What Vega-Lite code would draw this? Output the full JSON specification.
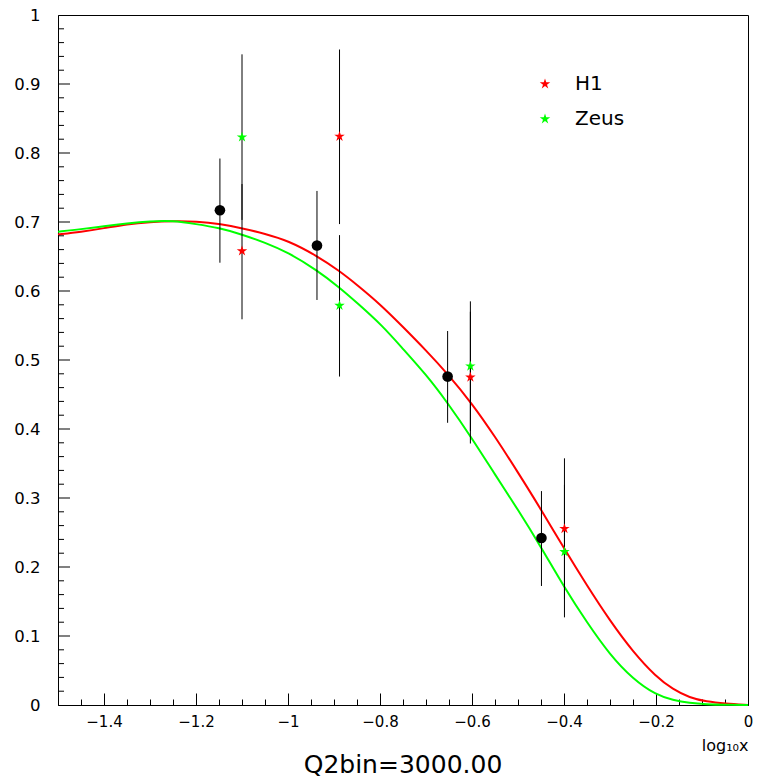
{
  "$schema": "https://vega.github.io/schema/vega-lite/v6.json",
  "width": 690,
  "height": 690,
  "autosize": "none",
  "padding": {"left": 58, "top": 15, "right": 10, "bottom": 78},
  "background": "white",
  "config": {
    "view": {"stroke": "black", "strokeWidth": 1},
    "font": "DejaVu Sans",
    "axis": {
      "grid": false,
      "domainColor": "black",
      "domainWidth": 1,
      "tickColor": "black",
      "tickWidth": 1,
      "labelColor": "black",
      "titleColor": "black",
      "labelFont": "DejaVu Sans",
      "titleFont": "DejaVu Sans",
      "labelFlush": false,
      "labelOverlap": false,
      "titleFontWeight": "normal"
    }
  },
  "title": {
    "text": "Q2bin=3000.00",
    "orient": "bottom",
    "anchor": "middle",
    "font": "DejaVu Sans",
    "fontSize": 25,
    "fontWeight": "normal",
    "color": "black",
    "offset": 0
  },
  "datasets": {
    "curves": [
      {"curve": "H1 fit", "x": -1.5, "y": 0.682},
      {"curve": "H1 fit", "x": -1.45, "y": 0.6858},
      {"curve": "H1 fit", "x": -1.4, "y": 0.691},
      {"curve": "H1 fit", "x": -1.35, "y": 0.697},
      {"curve": "H1 fit", "x": -1.3, "y": 0.7},
      {"curve": "H1 fit", "x": -1.25, "y": 0.7012},
      {"curve": "H1 fit", "x": -1.2, "y": 0.701},
      {"curve": "H1 fit", "x": -1.145, "y": 0.697},
      {"curve": "H1 fit", "x": -1.1, "y": 0.691},
      {"curve": "H1 fit", "x": -1.05, "y": 0.683},
      {"curve": "H1 fit", "x": -1.0, "y": 0.673},
      {"curve": "H1 fit", "x": -0.937, "y": 0.651},
      {"curve": "H1 fit", "x": -0.888, "y": 0.629},
      {"curve": "H1 fit", "x": -0.85, "y": 0.609},
      {"curve": "H1 fit", "x": -0.8, "y": 0.581},
      {"curve": "H1 fit", "x": -0.75, "y": 0.548},
      {"curve": "H1 fit", "x": -0.7, "y": 0.514},
      {"curve": "H1 fit", "x": -0.653, "y": 0.48},
      {"curve": "H1 fit", "x": -0.6, "y": 0.437},
      {"curve": "H1 fit", "x": -0.55, "y": 0.389},
      {"curve": "H1 fit", "x": -0.5, "y": 0.337},
      {"curve": "H1 fit", "x": -0.45, "y": 0.2835},
      {"curve": "H1 fit", "x": -0.4, "y": 0.227},
      {"curve": "H1 fit", "x": -0.35, "y": 0.173},
      {"curve": "H1 fit", "x": -0.3, "y": 0.122},
      {"curve": "H1 fit", "x": -0.25, "y": 0.077},
      {"curve": "H1 fit", "x": -0.2, "y": 0.041},
      {"curve": "H1 fit", "x": -0.163, "y": 0.0227},
      {"curve": "H1 fit", "x": -0.127, "y": 0.0106},
      {"curve": "H1 fit", "x": -0.09, "y": 0.0048},
      {"curve": "H1 fit", "x": -0.05, "y": 0.002},
      {"curve": "H1 fit", "x": 0.0, "y": 0.0},
      {"curve": "Zeus fit", "x": -1.5, "y": 0.686},
      {"curve": "Zeus fit", "x": -1.45, "y": 0.6895},
      {"curve": "Zeus fit", "x": -1.4, "y": 0.694},
      {"curve": "Zeus fit", "x": -1.35, "y": 0.698},
      {"curve": "Zeus fit", "x": -1.3, "y": 0.701},
      {"curve": "Zeus fit", "x": -1.25, "y": 0.702},
      {"curve": "Zeus fit", "x": -1.2, "y": 0.697},
      {"curve": "Zeus fit", "x": -1.15, "y": 0.6915},
      {"curve": "Zeus fit", "x": -1.1, "y": 0.682},
      {"curve": "Zeus fit", "x": -1.05, "y": 0.67},
      {"curve": "Zeus fit", "x": -1.0, "y": 0.656},
      {"curve": "Zeus fit", "x": -0.937, "y": 0.63},
      {"curve": "Zeus fit", "x": -0.888, "y": 0.605},
      {"curve": "Zeus fit", "x": -0.85, "y": 0.583},
      {"curve": "Zeus fit", "x": -0.795, "y": 0.55},
      {"curve": "Zeus fit", "x": -0.75, "y": 0.516},
      {"curve": "Zeus fit", "x": -0.7, "y": 0.479},
      {"curve": "Zeus fit", "x": -0.653, "y": 0.438},
      {"curve": "Zeus fit", "x": -0.6, "y": 0.3865},
      {"curve": "Zeus fit", "x": -0.55, "y": 0.334},
      {"curve": "Zeus fit", "x": -0.5, "y": 0.283},
      {"curve": "Zeus fit", "x": -0.45, "y": 0.229},
      {"curve": "Zeus fit", "x": -0.4, "y": 0.171},
      {"curve": "Zeus fit", "x": -0.35, "y": 0.1195},
      {"curve": "Zeus fit", "x": -0.3, "y": 0.0725},
      {"curve": "Zeus fit", "x": -0.25, "y": 0.0375},
      {"curve": "Zeus fit", "x": -0.2, "y": 0.0145},
      {"curve": "Zeus fit", "x": -0.163, "y": 0.007},
      {"curve": "Zeus fit", "x": -0.127, "y": 0.003},
      {"curve": "Zeus fit", "x": -0.09, "y": 0.001},
      {"curve": "Zeus fit", "x": -0.05, "y": 0.0002},
      {"curve": "Zeus fit", "x": 0.0, "y": 0.0}
    ],
    "points": [
      {"x": -1.148, "y": 0.717, "lo": 0.641, "hi": 0.792},
      {"x": -0.937, "y": 0.666, "lo": 0.587, "hi": 0.745},
      {"x": -0.653, "y": 0.476, "lo": 0.409, "hi": 0.542},
      {"x": -0.449, "y": 0.242, "lo": 0.1725, "hi": 0.31}
    ],
    "stars": [
      {"series": "H1", "x": -1.1, "y": 0.658, "lo": 0.559, "hi": 0.755},
      {"series": "H1", "x": -0.888, "y": 0.824, "lo": 0.697, "hi": 0.95},
      {"series": "H1", "x": -0.6035, "y": 0.475, "lo": 0.379, "hi": 0.57},
      {"series": "H1", "x": -0.399, "y": 0.2555, "lo": 0.153, "hi": 0.3575},
      {"series": "Zeus", "x": -1.1, "y": 0.823, "lo": 0.703, "hi": 0.943},
      {"series": "Zeus", "x": -0.888, "y": 0.579, "lo": 0.476, "hi": 0.681},
      {"series": "Zeus", "x": -0.6035, "y": 0.491, "lo": 0.397, "hi": 0.585},
      {"series": "Zeus", "x": -0.399, "y": 0.222, "lo": 0.127, "hi": 0.319}
    ],
    "yMajorTicks": [
      {"v": 0.1}, {"v": 0.2}, {"v": 0.3}, {"v": 0.4}, {"v": 0.5},
      {"v": 0.6}, {"v": 0.7}, {"v": 0.8}, {"v": 0.9}
    ],
    "yMinorTicks": [
      {"v": 0.02}, {"v": 0.04}, {"v": 0.06}, {"v": 0.08},
      {"v": 0.12}, {"v": 0.14}, {"v": 0.16}, {"v": 0.18},
      {"v": 0.22}, {"v": 0.24}, {"v": 0.26}, {"v": 0.28},
      {"v": 0.32}, {"v": 0.34}, {"v": 0.36}, {"v": 0.38},
      {"v": 0.42}, {"v": 0.44}, {"v": 0.46}, {"v": 0.48},
      {"v": 0.52}, {"v": 0.54}, {"v": 0.56}, {"v": 0.58},
      {"v": 0.62}, {"v": 0.64}, {"v": 0.66}, {"v": 0.68},
      {"v": 0.72}, {"v": 0.74}, {"v": 0.76}, {"v": 0.78},
      {"v": 0.82}, {"v": 0.84}, {"v": 0.86}, {"v": 0.88},
      {"v": 0.92}, {"v": 0.94}, {"v": 0.96}, {"v": 0.98}
    ]
  },
  "layer": [
    {
      "data": {"name": "curves"},
      "mark": {"type": "line", "strokeWidth": 2, "interpolate": "basis"},
      "encoding": {
        "x": {
          "field": "x", "type": "quantitative",
          "scale": {"domain": [-1.5, 0], "nice": false, "zero": false},
          "axis": {
            "orient": "bottom",
            "values": [-1.4, -1.2, -1, -0.8, -0.6, -0.4, -0.2, 0],
            "ticks": false,
            "format": "~f",
            "labelFontSize": 15,
            "labelPadding": 9,
            "title": "log₁₀x",
            "titleAnchor": "end",
            "titleFontSize": 16,
            "titlePadding": 8
          }
        },
        "y": {
          "field": "y", "type": "quantitative",
          "scale": {"domain": [0, 1], "nice": false, "zero": false},
          "axis": {
            "orient": "left",
            "values": [0, 0.1, 0.2, 0.3, 0.4, 0.5, 0.6, 0.7, 0.8, 0.9, 1],
            "ticks": false,
            "format": "~f",
            "labelFontSize": 16.5,
            "labelPadding": 18,
            "title": null
          }
        },
        "stroke": {
          "field": "curve", "type": "nominal",
          "scale": {"domain": ["H1 fit", "Zeus fit"], "range": ["#ff0000", "#00ff00"]},
          "legend": null
        },
        "order": {"field": "x", "type": "quantitative"}
      }
    },
    {
      "data": {"name": "points"},
      "mark": {"type": "rule", "color": "black", "strokeWidth": 1},
      "encoding": {
        "x": {
          "field": "x", "type": "quantitative",
          "axis": {
            "orient": "bottom",
            "values": [-1.4, -1.2, -1, -0.8, -0.6, -0.4, -0.2, 0],
            "ticks": true,
            "tickSize": 12,
            "offset": -12,
            "labels": false,
            "domain": false,
            "title": null
          }
        },
        "y": {"field": "lo", "type": "quantitative", "axis": null},
        "y2": {"field": "hi"}
      }
    },
    {
      "data": {"name": "stars"},
      "mark": {"type": "rule", "color": "black", "strokeWidth": 1},
      "encoding": {
        "x": {
          "field": "x", "type": "quantitative",
          "axis": {
            "orient": "bottom",
            "values": [-1.45, -1.35, -1.3, -1.25, -1.15, -1.1, -1.05, -0.95, -0.9, -0.85, -0.75, -0.7, -0.65, -0.55, -0.5, -0.45, -0.35, -0.3, -0.25, -0.15, -0.1, -0.05],
            "ticks": true,
            "tickSize": 6,
            "offset": -6,
            "labels": false,
            "domain": false,
            "title": null
          }
        },
        "y": {"field": "lo", "type": "quantitative", "axis": null},
        "y2": {"field": "hi"}
      }
    },
    {
      "data": {"name": "yMajorTicks"},
      "mark": {"type": "tick", "orient": "horizontal", "color": "black", "size": 12, "thickness": 1, "xOffset": 6, "opacity": 1},
      "encoding": {
        "x": {"datum": -1.5, "type": "quantitative", "axis": null},
        "y": {"field": "v", "type": "quantitative", "axis": null}
      }
    },
    {
      "data": {"name": "yMinorTicks"},
      "mark": {"type": "tick", "orient": "horizontal", "color": "black", "size": 6, "thickness": 1, "xOffset": 3, "opacity": 1},
      "encoding": {
        "x": {"datum": -1.5, "type": "quantitative", "axis": null},
        "y": {"field": "v", "type": "quantitative", "axis": null}
      }
    },
    {
      "data": {"name": "points"},
      "mark": {"type": "point", "shape": "circle", "filled": true, "color": "black", "size": 113, "opacity": 1},
      "encoding": {
        "x": {"field": "x", "type": "quantitative", "axis": null},
        "y": {"field": "y", "type": "quantitative", "axis": null}
      }
    },
    {
      "data": {"name": "stars"},
      "mark": {
        "type": "point",
        "shape": "M0,-1L0.2245,-0.309L0.951,-0.309L0.363,0.118L0.588,0.809L0,0.382L-0.588,0.809L-0.363,0.118L-0.951,-0.309L-0.2245,-0.309Z",
        "filled": true,
        "size": 121,
        "opacity": 1
      },
      "encoding": {
        "x": {"field": "x", "type": "quantitative", "axis": null},
        "y": {"field": "y", "type": "quantitative", "axis": null},
        "color": {
          "field": "series", "type": "nominal",
          "scale": {"domain": ["H1", "Zeus"], "range": ["#ff0000", "#00ff00"]},
          "legend": {
            "title": null,
            "orient": "none",
            "legendX": 477,
            "legendY": 59,
            "padding": 0,
            "symbolType": "M0,-1L0.2245,-0.309L0.951,-0.309L0.363,0.118L0.588,0.809L0,0.382L-0.588,0.809L-0.363,0.118L-0.951,-0.309L-0.2245,-0.309Z",
            "symbolSize": 121,
            "symbolStrokeWidth": 0,
            "labelFont": "DejaVu Sans",
            "labelFontSize": 20,
            "labelColor": "black",
            "labelOffset": 20,
            "rowPadding": 15
          }
        }
      }
    }
  ],
  "resolve": {"axis": {"x": "independent", "y": "independent"}}
}
